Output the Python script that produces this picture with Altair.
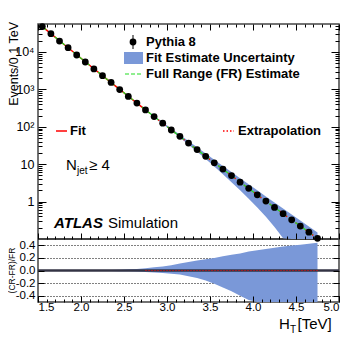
import altair as alt
import pandas as pd

# ---------------- data ----------------
ht = [1.55, 1.65, 1.75, 1.85, 1.95, 2.05, 2.15, 2.25, 2.35, 2.45, 2.55,
      2.65, 2.75, 2.85, 2.95, 3.05, 3.15, 3.25, 3.35, 3.45, 3.55, 3.65,
      3.75, 3.85, 3.95, 4.05, 4.15, 4.25, 4.35, 4.45, 4.55, 4.65, 4.75]

pythia = [47900, 30900, 19600, 13000, 8300, 5400, 3520, 2330, 1530, 990,
          650, 430, 283, 188, 125, 82, 55.5, 36.8, 24.6, 16.2, 10.9, 7.4,
          4.95, 3.3, 2.26, 1.52, 1.03, 0.70, 0.475, 0.325, 0.222, 0.152, 0.104]

fr_estimate = [47863, 30903, 19999, 12972, 8414, 5470, 3565, 2328, 1524, 1000,
               656, 431.5, 284.4, 187.9, 124.5, 82.6, 54.95, 36.56, 24.38, 16.29,
               10.91, 7.33, 4.93, 3.33, 2.244, 1.517, 1.028, 0.698, 0.475, 0.324,
               0.222, 0.152, 0.104]

fit_estimate = fr_estimate  # the control-region fit coincides with the FR estimate

band_up_rel = [0.001, 0.001, 0.002, 0.002, 0.003, 0.004, 0.005, 0.007, 0.009, 0.013,
               0.018, 0.025, 0.035, 0.05, 0.065, 0.085, 0.11, 0.135, 0.16, 0.18,
               0.20, 0.225, 0.25, 0.27, 0.30, 0.32, 0.34, 0.36, 0.38, 0.395,
               0.41, 0.425, 0.44]
band_lo_rel = [-0.001, -0.001, -0.002, -0.002, -0.003, -0.004, -0.005, -0.006, -0.008,
               -0.010, -0.013, -0.017, -0.022, -0.03, -0.04, -0.05, -0.065, -0.09,
               -0.12, -0.16, -0.21, -0.27, -0.33, -0.40, -0.47, -0.54, -0.62, -0.70,
               -0.78, -0.85, -0.90, -0.94, -0.97]

fit_end = 2.75  # fit region ends, extrapolation starts

x_major = [1.5, 2.0, 2.5, 3.0, 3.5, 4.0, 4.5, 5.0]
x_minor = [1.6, 1.7, 1.8, 1.9, 2.1, 2.2, 2.3, 2.4, 2.6, 2.7, 2.8, 2.9,
           3.1, 3.2, 3.3, 3.4, 3.6, 3.7, 3.8, 3.9, 4.1, 4.2, 4.3, 4.4,
           4.6, 4.7, 4.8, 4.9]
y_major = [1, 10, 100, 1000, 10000]
y_minor = [0.2, 0.3, 0.4, 0.5, 0.6, 0.7, 0.8, 0.9,
           2, 3, 4, 5, 6, 7, 8, 9,
           20, 30, 40, 50, 60, 70, 80, 90,
           200, 300, 400, 500, 600, 700, 800, 900,
           2000, 3000, 4000, 5000, 6000, 7000, 8000, 9000,
           20000, 30000, 40000, 50000]
r_major = [-0.4, -0.2, 0.0, 0.2, 0.4]
r_grid = [-0.4, -0.2, 0.2, 0.4]

# ---------------- tables ----------------
df = pd.DataFrame({"ht": ht, "pythia": pythia, "fr": fr_estimate,
                   "fit": fit_estimate, "up": band_up_rel, "lo": band_lo_rel})
df["hi_abs"] = df["fr"] * (1 + df["up"])
df["lo_abs"] = df["fr"] * (1 + df["lo"])
df["ratio"] = (df["fit"] - df["fr"]) / df["fr"]
fit_df = df[df["ht"] <= fit_end + 1e-9]
ext_df = df[df["ht"] >= fit_end - 1e-9]
one = pd.DataFrame({"a": [0]})

W, HT_TOP, HT_R = 301, 215, 63
H = HT_TOP + HT_R
BLUE = "#7a98d8"
GREEN = "#22dd22"
FONT = "Liberation Sans"

XS = alt.Scale(domain=[1.5, 5.0], nice=False, zero=False)
YT = alt.Scale(type="log", domain=[0.1, 56000], nice=False, range=[HT_TOP, 0], clamp=True)
YR = alt.Scale(domain=[-0.5, 0.5], nice=False, zero=False, range=[H, HT_TOP], clamp=True)


def tick_axis(orient, values, size, extra=0, **kw):
    opts = dict(orient=orient, values=values, tickSize=size, offset=-(size + extra),
                domain=False, grid=False, title=None, tickColor="black",
                tickWidth=1, zindex=1, labels=False)
    opts.update(kw)
    return alt.Axis(**opts)


sup_expr = ("datum.value == 10000 ? '10\u2074' : datum.value == 1000 ? '10\u00b3' : "
            "datum.value == 100 ? '10\u00b2' : datum.label")

ax_top_major = tick_axis("top", x_major, 6)
ax_top_minor = tick_axis("top", x_minor, 3)
ax_bnd_major = tick_axis("bottom", x_major, 6, extra=HT_R)
ax_bnd_minor = tick_axis("bottom", x_minor, 3, extra=HT_R)
ax_bot_major = tick_axis("bottom", x_major, 6, labels=True, labelPadding=-1,
                         format=".1f", labelFontSize=11.5)
ax_bot_minor = tick_axis("bottom", x_minor, 3)
ax_left_major = tick_axis("left", y_major, 8, labels=True, labelPadding=4,
                          labelExpr=sup_expr, labelFontSize=12.5)
ax_left_minor = tick_axis("left", y_minor, 4)
ax_right_major = tick_axis("right", y_major, 8)
ax_right_minor = tick_axis("right", y_minor, 4)
ax_r_left = tick_axis("left", r_major, 6, labels=True, labelPadding=3, format=".1f",
                      labelExpr="replace(datum.label, '\u2212', '-')", labelFontSize=11.5)
ax_r_right = tick_axis("right", r_major, 6)
ax_r_grid = alt.Axis(orient="left", values=r_grid, grid=True, gridDash=[1, 2],
                     gridColor="black", gridWidth=1, gridOpacity=1, ticks=False,
                     labels=False, domain=False, title=None, zindex=0)

# ---------------- upper panel ----------------
band = alt.Chart(df).mark_area(color=BLUE, opacity=1).encode(
    x=alt.X("ht:Q", scale=XS, axis=ax_top_major),
    y=alt.Y("hi_abs:Q", scale=YT, axis=ax_left_major),
    y2="lo_abs:Q")
fit_line = alt.Chart(fit_df).mark_line(color="red", strokeWidth=1.5).encode(
    x=alt.X("ht:Q", scale=XS, axis=ax_top_minor),
    y=alt.Y("fit:Q", scale=YT, axis=ax_left_minor))
ext_line = alt.Chart(ext_df).mark_line(color="red", strokeWidth=1.5, strokeDash=[1.5, 2.5]).encode(
    x=alt.X("ht:Q", scale=XS, axis=ax_bnd_major),
    y=alt.Y("fit:Q", scale=YT, axis=ax_right_major))
fr_line = alt.Chart(df).mark_line(color=GREEN, strokeWidth=1.2, strokeDash=[5, 3]).encode(
    x=alt.X("ht:Q", scale=XS, axis=ax_bnd_minor),
    y=alt.Y("fr:Q", scale=YT, axis=ax_right_minor))
points = alt.Chart(df).mark_circle(size=46, color="black", opacity=1).encode(
    x=alt.X("ht:Q", scale=XS, axis=None),
    y=alt.Y("pythia:Q", scale=YT, axis=None))

# ---------------- ratio panel ----------------
rband = alt.Chart(df).mark_area(color=BLUE, opacity=1).encode(
    x=alt.X("ht:Q", scale=XS, axis=ax_bot_major),
    y=alt.Y("up:Q", scale=YR, axis=ax_r_left),
    y2="lo:Q")
zero = alt.Chart(one).mark_rule(color="#333344", strokeWidth=2.5).encode(
    y=alt.YDatum(0, type="quantitative", scale=YR, axis=ax_r_right))
rext = alt.Chart(ext_df).mark_line(color="red", strokeWidth=1.2, strokeDash=[1, 2]).encode(
    x=alt.X("ht:Q", scale=XS, axis=ax_bot_minor),
    y=alt.Y("ratio:Q", scale=YR, axis=ax_r_grid))
sep = alt.Chart(one).mark_rule(color="#444444", strokeWidth=2).encode(
    y=alt.YDatum(0.5, type="quantitative", scale=YR, axis=None))


# ---------------- legend & annotations ----------------
def txt(s, x, y, size, weight="normal", style="normal", align="left",
        baseline="middle", angle=0):
    return alt.Chart(one).mark_text(text=s, font=FONT, fontSize=size, fontWeight=weight,
                                    fontStyle=style, align=align, baseline=baseline,
                                    angle=angle, color="black").encode(
        x=alt.value(x), y=alt.value(y))


leg_pt = alt.Chart(one).mark_circle(size=46, color="black", opacity=1).encode(
    x=alt.value(95), y=alt.value(18))
leg_err = alt.Chart(one).mark_rule(color="black", strokeWidth=1).encode(
    x=alt.value(95), y=alt.value(11), y2=alt.value(25))
leg_box = alt.Chart(one).mark_rect(color=BLUE).encode(
    x=alt.value(86), x2=alt.value(105), y=alt.value(28), y2=alt.value(40))
leg_green = alt.Chart(one).mark_rule(color=GREEN, strokeWidth=1.2, strokeDash=[4, 2]).encode(
    x=alt.value(87), x2=alt.value(104), y=alt.value(50))
leg_fit = alt.Chart(one).mark_rule(color="red", strokeWidth=1.5).encode(
    x=alt.value(18), x2=alt.value(29), y=alt.value(107))
leg_ext = alt.Chart(one).mark_rule(color="red", strokeWidth=1.5, strokeDash=[1.5, 2]).encode(
    x=alt.value(185), x2=alt.value(196), y=alt.value(107))

texts = [
    txt("Pythia 8", 108, 18, 13, "bold"),
    txt("Fit Estimate Uncertainty", 108, 34, 13, "bold"),
    txt("Full Range (FR) Estimate", 108, 50, 13, "bold"),
    txt("Fit", 32, 107, 13, "bold"),
    txt("Extrapolation", 200, 107, 13, "bold"),
    txt("N", 28, 146, 15, baseline="alphabetic"),
    txt("jet", 39, 150, 10, baseline="alphabetic"),
    txt("\u2265 4", 51, 146, 15, baseline="alphabetic"),
    txt("ATLAS", 16, 204, 15, "bold", "italic", baseline="alphabetic"),
    txt("Simulation", 70, 204, 15, baseline="alphabetic"),
    txt("Events/0.1 TeV", -20.5, -2, 12.5, align="right", baseline="alphabetic", angle=270),
    txt("(CR-FR)/FR", -23.5, HT_TOP + HT_R / 2, 8.5, align="center",
        baseline="alphabetic", angle=270),
    txt("H", 241, 304.5, 15, baseline="alphabetic"),
    txt("T", 252, 308.5, 10, baseline="alphabetic"),
    txt("[TeV]", 259.5, 304.5, 15, baseline="alphabetic"),
]

chart = alt.layer(
    rband, zero, rext, sep,
    band, fit_line, ext_line, fr_line, points,
    leg_box, leg_err, leg_pt, leg_green, leg_fit, leg_ext,
    *texts
).resolve_scale(y="independent").resolve_axis(
    x="independent", y="independent"
).properties(
    width=W, height=H,
    autosize=alt.AutoSizeParams(type="none"),
    padding={"left": 30, "top": 16, "right": 8, "bottom": 33},
).configure_view(
    stroke="#444444", strokeWidth=1.5
).configure_axis(
    labelFont=FONT, labelColor="black"
)

chart.save("out.html", embed_options={"renderer": "svg", "actions": False})
